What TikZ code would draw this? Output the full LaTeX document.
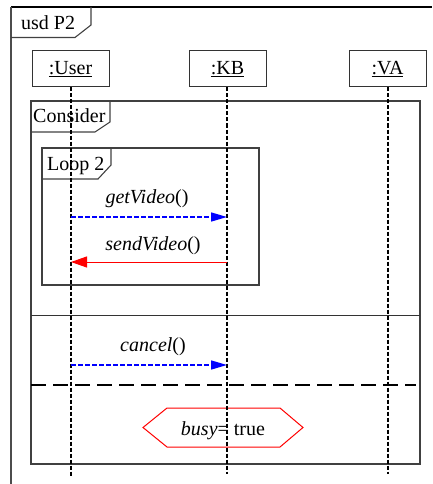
\documentclass[tikz,border=0pt]{standalone}
\usepackage{fontspec}
\setmainfont{Liberation Serif}
\usetikzlibrary{arrows.meta}
\tikzset{
  every node/.style={font=\fontsize{20}{22}\selectfont, inner sep=0pt},
  frameline/.style={draw=black!75, line width=1.1pt},
  objbox/.style={draw=black!80, line width=1pt, minimum width=77pt, minimum height=36pt},
  lifeline/.style={draw=black, line width=1.5pt, dash pattern=on 4pt off 2pt},
  callmsg/.style={draw=blue, line width=1.5pt, dash pattern=on 5pt off 2pt,
    -{Triangle[length=16pt,width=9pt]}},
  replymsg/.style={draw=red, line width=1pt, -{Triangle[length=16pt,width=11pt]}},
  msglabel/.style={anchor=base},
  guard/.style={draw=red, line width=1pt}
}
\begin{document}
\begin{tikzpicture}[x=1pt,y=-1pt]
\useasboundingbox (0,0) rectangle (432,484);

% outer sequence diagram frame
\draw[draw=black, line width=1.3pt] (11,7) -- (432,7);
\draw[draw=black!70, line width=1.3pt] (11,7) -- (11,484);
\draw[frameline] (11,37.5) -- (75,37.5) -- (91,25) -- (91,7);
\node[anchor=base west] (title) at (21,30) {usd P2};

% lifeline heads
\node[objbox] (user) at (70.5,69) {\underline{:User}};
\node[objbox] (kb)   at (227.5,69) {\underline{:KB}};
\node[objbox] (va)   at (387.5,69) {\underline{:VA}};

% combined fragment "Consider"
\draw[frameline] (31,101) rectangle (420,464);
\draw[frameline] (31,132) -- (95,132) -- (110,122) -- (110,101);
\node[anchor=base west] (consider) at (33,122) {Consider};
\draw[draw=black!80, line width=1pt] (31,315) -- (420,315);
\draw[draw=black, line width=2pt, dash pattern=on 15pt off 7pt] (31,385) -- (416,385);

% loop fragment
\draw[frameline] (42,148) rectangle (259,285);
\draw[frameline] (42,179) -- (98,179) -- (111,165) -- (111,148);
\node[anchor=base west] (loop) at (47,170) {Loop 2};

% state invariant
\draw[guard] (143,427.5) -- (167,408) -- (280,408) -- (303,427.5) -- (280,447) -- (167,447) -- cycle;
\node[msglabel] (inv) at (223,435) {\textit{busy}= true};

% lifelines
\coordinate (userend) at (71,476);
\coordinate (kbend) at (227,474);
\coordinate (vaend) at (388,474);
\draw[lifeline] (user.south -| userend) -- (userend);
\draw[lifeline] (kb.south -| kbend) -- (kbend);
\draw[lifeline] (va.south -| vaend) -- (vaend);

% messages
\coordinate (u1) at (71,217);
\coordinate (k1) at (227,217);
\coordinate (u2) at (71,262);
\coordinate (k2) at (227,262);
\coordinate (u3) at (71,365);
\coordinate (k3) at (227,365);
\draw[callmsg] (u1) -- (k1);
\node[msglabel] (m1) at (147,203) {\textit{getVideo}()};
\draw[replymsg] (k2) -- (u2);
\node[msglabel] (m2) at (153,250) {\textit{sendVideo}()};
\draw[callmsg] (u3) -- (k3);
\node[msglabel] (m3) at (153,351) {\textit{cancel}()};
\end{tikzpicture}
\end{document}
